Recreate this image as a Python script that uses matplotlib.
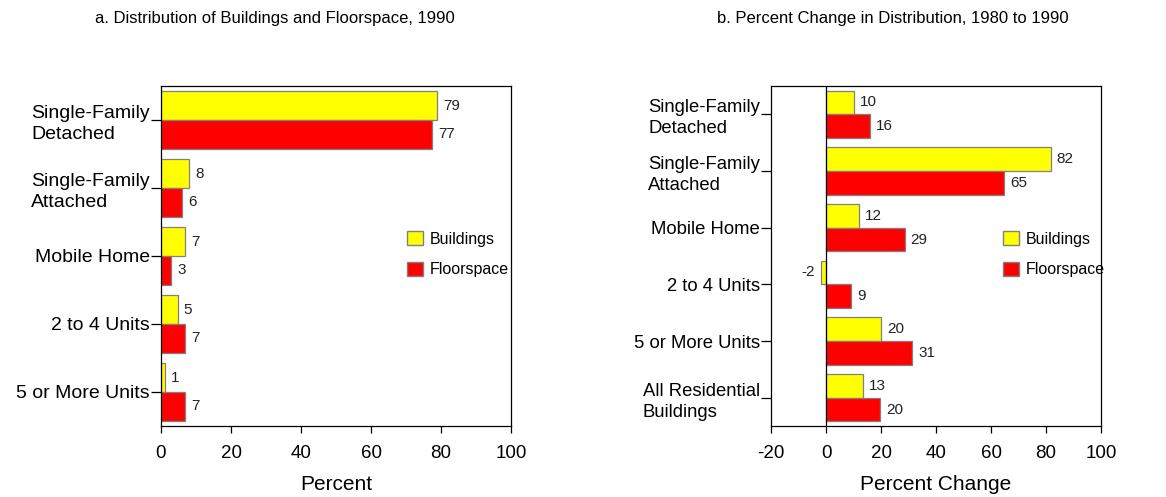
import numpy as np
import matplotlib
matplotlib.use("Agg")
import matplotlib.pyplot as plt
from matplotlib.patches import Patch

plt.rcParams['font.family'] = ['Liberation Sans', 'DejaVu Sans']
plt.rcParams['axes.unicode_minus'] = False

# panel a: distribution 1990 (percent)
cats_a = ['Single-Family\nDetached', 'Single-Family\nAttached', 'Mobile Home',
          '2 to 4 Units', '5 or More Units']
bld_a = [78.8, 8.1, 6.9, 4.8, 1.2]
flr_a = [77.5, 6.0, 2.9, 6.9, 6.9]
bld_a_lbl = ['79', '8', '7', '5', '1']
flr_a_lbl = ['77', '6', '3', '7', '7']

# panel b: percent change 1980 to 1990
cats_b = ['Single-Family\nDetached', 'Single-Family\nAttached', 'Mobile Home',
          '2 to 4 Units', '5 or More Units', 'All Residential\nBuildings']
bld_b = [10.0, 81.7, 12.0, -1.8, 20.0, 13.5]
flr_b = [15.9, 64.8, 28.6, 9.1, 31.3, 19.6]
bld_b_lbl = ['10', '82', '12', '-2', '20', '13']
flr_b_lbl = ['16', '65', '29', '9', '31', '20']

YEL = '#ffff00'
RED = '#ff0000'
EDGE = '#808080'

fig = plt.figure(figsize=(11.66, 4.97), dpi=100)
ax1 = fig.add_axes([161/1166, 71/497, 350/1166, 340/497])
ax2 = fig.add_axes([771/1166, 71/497, 330/1166, 340/497])


def draw(ax, cats, bld, flr, bl, fl, xlim, xlabel, xticks, px_per_unit, catsize):
    y = np.arange(len(cats))
    h = 0.42
    ax.barh(y - h/2, bld, height=h, color=YEL, edgecolor=EDGE, linewidth=0.9)
    ax.barh(y + h/2, flr, height=h, color=RED, edgecolor=EDGE, linewidth=0.9)
    off = 6 / px_per_unit
    for yy, v, t in zip(y, bld, bl):
        if v >= 0:
            ax.text(v + off, yy - h/2, t, ha='left', va='center', fontsize=11, color='#222222')
        else:
            ax.text(v - off, yy - h/2, t, ha='right', va='center', fontsize=11, color='#222222')
    for yy, v, t in zip(y, flr, fl):
        ax.text(v + off, yy + h/2, t, ha='left', va='center', fontsize=11, color='#222222')
    ax.set_ylim(len(cats) - 0.5, -0.5)
    ax.set_xlim(*xlim)
    ax.set_xticks(xticks)
    ax.set_yticks(y)
    ax.set_yticklabels(cats, fontsize=catsize, multialignment='left', linespacing=1.3)
    ax.tick_params(axis='y', length=7, width=0.9, pad=1)
    ax.tick_params(axis='x', length=5, width=0.9, labelsize=13.5, pad=9)
    ax.set_xlabel(xlabel, fontsize=15, labelpad=9)
    for s in ax.spines.values():
        s.set_linewidth(0.9)
    leg = ax.legend(handles=[Patch(facecolor=YEL, edgecolor=EDGE, label='Buildings'),
                             Patch(facecolor=RED, edgecolor=EDGE, label='Floorspace')],
                    frameon=False, fontsize=11.5, handlelength=1.0, handleheight=1.0,
                    handletextpad=0.4, labelspacing=0.95, loc='upper left',
                    bbox_to_anchor=(0, 0), borderaxespad=0, borderpad=0)
    return leg


leg1 = draw(ax1, cats_a, bld_a, flr_a, bld_a_lbl, flr_a_lbl, (0, 100), 'Percent',
            [0, 20, 40, 60, 80, 100], 3.5, 14)
leg1.set_bbox_to_anchor((407/1166, 1 - 231/497), transform=fig.transFigure)
leg2 = draw(ax2, cats_b, bld_b, flr_b, bld_b_lbl, flr_b_lbl, (-20, 100), 'Percent Change',
            [-20, 0, 20, 40, 60, 80, 100], 2.75, 13.3)
leg2.set_bbox_to_anchor((1003/1166, 1 - 231/497), transform=fig.transFigure)
ax2.axvline(0, color='black', linewidth=0.9)

fig.text(275/1166, 1 - 18/497, 'a. Distribution of Buildings and Floorspace, 1990',
         ha='center', va='center', fontsize=12)
fig.text(893/1166, 1 - 18/497, 'b. Percent Change in Distribution, 1980 to 1990',
         ha='center', va='center', fontsize=12)

fig.savefig('out.png', dpi=100)
